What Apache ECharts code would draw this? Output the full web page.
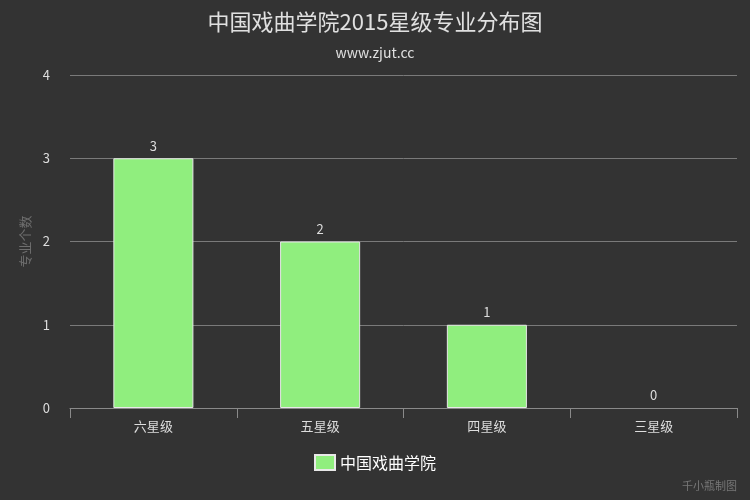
<!DOCTYPE html>
<html><head><meta charset="utf-8">
<script src="https://cdn.jsdelivr.net/npm/echarts@6/dist/echarts.min.js"></script>
<style>html,body{margin:0;padding:0;background:#333333;}#c{width:750px;height:500px;}</style>
</head><body><div id="c"></div>
<script>
const categories = ['六星级', '五星级', '四星级', '三星级'];
const values = [3, 2, 1, 0];
const seriesName = '中国戏曲学院';
const yTicks = [0, 1, 2, 3, 4];

const chart = echarts.init(document.getElementById('c'));
chart.setOption({
  backgroundColor: '#333333',
  textStyle: { fontFamily: 'Noto Sans CJK SC, DejaVu Sans, sans-serif' },
  title: [{
    text: '中国戏曲学院2015星级专业分布图',
    subtext: 'www.zjut.cc',
    left: 'center',
    top: 6,
    itemGap: 13,
    textStyle: { color: '#e0e0e0', fontSize: 22, fontWeight: 'normal' },
    subtextStyle: { color: '#e0e0e0', fontSize: 14 }
  }, {
    text: '千小瓶制图',
    right: 8,
    bottom: 4,
    textStyle: { color: '#777777', fontSize: 11, fontWeight: 'normal' }
  }],
  legend: {
    bottom: 24,
    left: 'center',
    icon: 'rect',
    itemWidth: 20,
    itemHeight: 15,
    textStyle: { color: '#ffffff', fontSize: 16 },
    data: [seriesName]
  },
  grid: { left: 70, right: 13, top: 75, bottom: 92 },
  xAxis: {
    type: 'category',
    data: categories,
    axisLine: { lineStyle: { color: '#8a8a8a' } },
    axisTick: { show: true, length: 10, lineStyle: { color: '#8a8a8a' } },
    axisLabel: { color: '#dddddd', fontSize: 13, margin: 12 }
  },
  yAxis: {
    type: 'value',
    min: yTicks[0],
    max: yTicks[yTicks.length - 1],
    interval: 1,
    name: '专业个数',
    nameLocation: 'middle',
    nameGap: 38,
    nameTextStyle: { color: '#6e6e6e', fontSize: 13 },
    axisLine: { show: false },
    axisTick: { show: false },
    axisLabel: { color: '#dddddd', fontSize: 13, margin: 20 },
    splitLine: { lineStyle: { color: '#7a7a7a', width: 1 } }
  },
  series: [{
    name: seriesName,
    type: 'bar',
    data: values.map(v => ({ value: v, itemStyle: v === 0 ? { borderWidth: 0 } : {} })),
    barWidth: '48%',
    itemStyle: { color: '#90ee7e', borderColor: '#e8e8e8', borderWidth: 1 },
    label: { show: true, position: 'top', color: '#dddddd', fontSize: 13, distance: 6 }
  }]
});
</script></body></html>
